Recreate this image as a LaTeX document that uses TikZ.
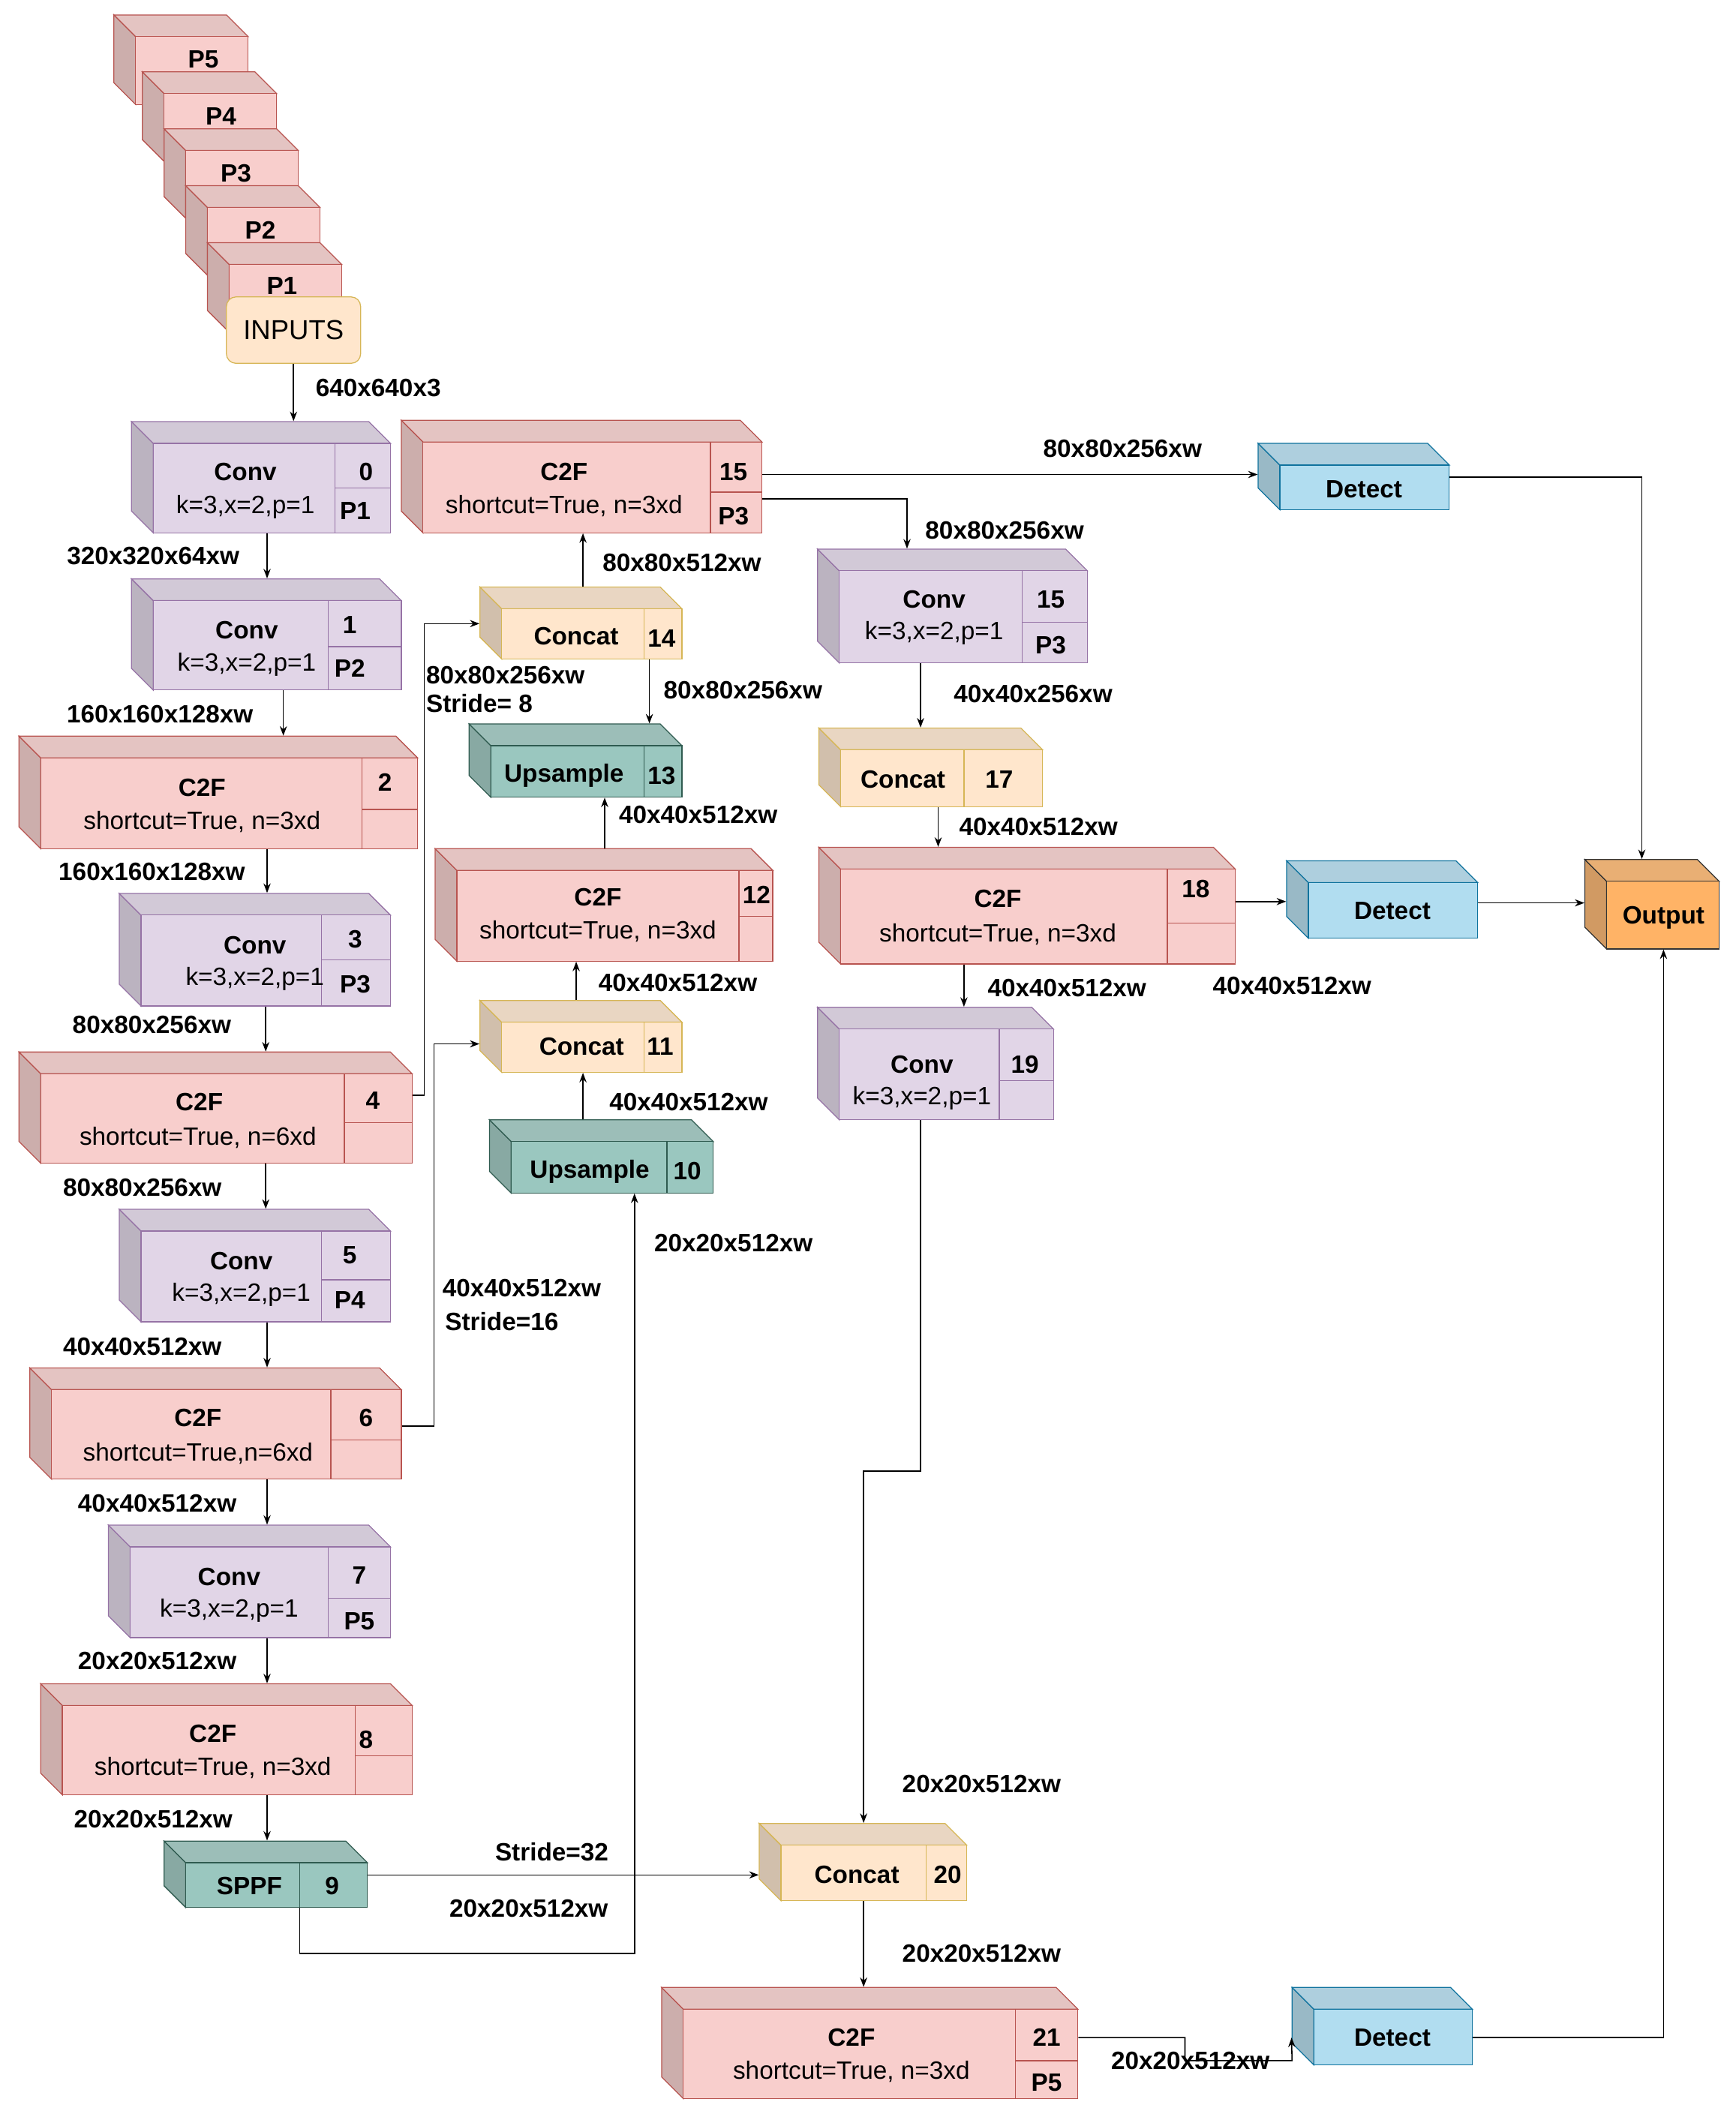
\documentclass[tikz,border=0pt]{standalone}
\usepackage{fontspec}
\setmainfont{Liberation Sans}
\usetikzlibrary{fit,arrows.meta}
\definecolor{purF}{HTML}{E1D5E7}\definecolor{purD}{HTML}{9673A6}
\definecolor{redF}{HTML}{F8CECC}\definecolor{redD}{HTML}{B85450}
\definecolor{orF}{HTML}{FFE6CC}\definecolor{orD}{HTML}{D6B656}
\definecolor{tealF}{HTML}{9AC7BF}\definecolor{tealD}{HTML}{2F5B50}
\definecolor{bluF}{HTML}{B1DDF0}\definecolor{bluD}{HTML}{10739E}
\definecolor{outF}{HTML}{FFB366}\definecolor{outD}{HTML}{333333}
\newcommand\cub[7]{%
 \filldraw[fill=#6!80!black!90,draw=#7] ({#2-16},{#3-16}) -- (#2,#3) -- (#2,#5) -- ({#2-16},{#5-16}) -- cycle;
 \filldraw[fill=#6!90!black!85,draw=#7] ({#2-16},{#3-16}) -- ({#4-16},{#3-16}) -- (#4,#3) -- (#2,#3) -- cycle;
 \filldraw[fill=#6,draw=#7] (#2,#3) rectangle (#4,#5);
 \node[fit={({#2-16},{#3-16}) (#4,#5)},inner sep=0] (#1) {};}
\newcommand\vd[4]{\draw[#4] (#1,#2) -- (#1,#3);}
\newcommand\hd[4]{\draw[#4] (#1,#3) -- (#2,#3);}
\tikzset{
 t/.style={font=\fontsize{10.5}{12}\selectfont\bfseries,inner sep=0},
 r/.style={font=\fontsize{10.5}{12}\selectfont,inner sep=0},
 e/.style={-{Stealth[length=4pt,width=3pt]},black,line width=0.5pt}}
\begin{document}
\begin{tikzpicture}[x=0.02cm,y=-0.02cm]
\useasboundingbox (0,0) rectangle (1280,1566);
% inputs stack
\cub{p5}{100}{27}{183}{77}{redF}{redD}\node[t] at (150,44){P5};
\cub{p4}{121}{69}{204}{119}{redF}{redD}\node[t] at (163,86){P4};
\cub{p3}{137}{111}{220}{161}{redF}{redD}\node[t] at (174,128){P3};
\cub{p2}{153}{153}{236}{203}{redF}{redD}\node[t] at (192,170){P2};
\cub{p1}{169}{195}{252}{245}{redF}{redD}\node[t] at (208,211){P1};
\node[draw=orD,fill=orF,rounded corners=4pt,minimum width=1.98cm,minimum height=0.98cm,r,font=\fontsize{11.5}{13}\selectfont] (in) at (216.5,243.5){INPUTS};
% left column
\cub{c0}{113}{327}{288}{393}{purF}{purD}\vd{247}{327}{393}{purD}\hd{247}{288}{360}{purD}
\node[t] at (181,348){Conv};\node[r] at (181,374){k=3,x=2,p=1};\node[t] at (270,348){0};\node[t] at (262,377){P1};
\cub{c1}{113}{443}{296}{509}{purF}{purD}\vd{242}{443}{509}{purD}\hd{242}{296}{477}{purD}
\node[t] at (182,465){Conv};\node[r] at (182,490){k=3,x=2,p=1};\node[t] at (258,461){1};\node[t] at (258,493){P2};
\cub{c2}{30}{559}{308}{626}{redF}{redD}\vd{267}{559}{626}{redD}\hd{267}{308}{597}{redD}
\node[t] at (149,581){C2F};\node[r] at (149,606){shortcut=True, n=3xd};\node[t] at (284,577){2};
\cub{c3}{104}{675}{288}{742}{purF}{purD}\vd{237}{675}{742}{purD}\hd{237}{288}{708}{purD}
\node[t] at (188,697){Conv};\node[r] at (188,722){k=3,x=2,p=1};\node[t] at (262,693){3};\node[t] at (262,726){P3};
\cub{c4}{30}{792}{304}{858}{redF}{redD}\vd{254}{792}{858}{redD}\hd{254}{304}{828}{redD}
\node[t] at (147,813){C2F};\node[r] at (146,839){shortcut=True, n=6xd};\node[t] at (275,812){4};
\cub{c5}{104}{908}{288}{975}{purF}{purD}\vd{237}{908}{975}{purD}\hd{237}{288}{944}{purD}
\node[t] at (178,930){Conv};\node[r] at (178,955){k=3,x=2,p=1};\node[t] at (258,926){5};\node[t] at (258,959){P4};
\cub{c6}{38}{1025}{296}{1091}{redF}{redD}\vd{244}{1025}{1091}{redD}\hd{244}{296}{1062}{redD}
\node[t] at (146,1046){C2F};\node[r] at (146,1072){shortcut=True,n=6xd};\node[t] at (270,1046){6};
\cub{c7}{96}{1141}{288}{1208}{purF}{purD}\vd{242}{1141}{1208}{purD}\hd{242}{288}{1179}{purD}
\node[t] at (169,1163){Conv};\node[r] at (169,1188){k=3,x=2,p=1};\node[t] at (265,1162){7};\node[t] at (265,1196){P5};
\cub{c8}{46}{1258}{304}{1324}{redF}{redD}\vd{262}{1258}{1324}{redD}\hd{262}{304}{1295}{redD}
\node[t] at (157,1279){C2F};\node[r] at (157,1304){shortcut=True, n=3xd};\node[t] at (270,1283){8};
\cub{c9}{137}{1374}{271}{1407}{tealF}{tealD}\vd{221}{1374}{1407}{tealD}
\node[t] at (184,1391){SPPF};\node[t] at (245,1391){9};
% middle column
\cub{c15}{312}{326}{562}{393}{redF}{redD}\vd{524}{326}{393}{redD}\hd{524}{562}{363}{redD}
\node[t] at (416,348){C2F};\node[r] at (416,373){shortcut=True, n=3xd};\node[t] at (541,348){15};\node[t] at (541,381){P3};
\cub{c14}{370}{449}{503}{486}{orF}{orD}\vd{475}{449}{486}{orD}
\node[t] at (425,469){Concat};\node[t] at (488,471){14};
\cub{c13}{362}{550}{503}{588}{tealF}{tealD}\vd{475}{550}{588}{tealD}
\node[t] at (416,572){Upsample};\node[t] at (488,572){13};
\cub{c12}{337}{642}{570}{709}{redF}{redD}\vd{545}{642}{709}{redD}\hd{545}{570}{676}{redD}
\node[t] at (441,662){C2F};\node[r] at (441,687){shortcut=True, n=3xd};\node[t] at (558,660){12};
\cub{c11}{370}{754}{503}{791}{orF}{orD}\vd{475}{754}{791}{orD}
\node[t] at (429,772){Concat};\node[t] at (487,772){11};
\cub{c10}{377}{842}{526}{880}{tealF}{tealD}\vd{492}{842}{880}{tealD}
\node[t] at (435,864){Upsample};\node[t] at (507,864){10};
% right column
\cub{d15}{619}{421}{802}{489}{purF}{purD}\vd{754}{421}{489}{purD}\hd{754}{802}{459}{purD}
\node[t] at (689,442){Conv};\node[r] at (689,467){k=3,x=2,p=1};\node[t] at (775,442){15};\node[t] at (775,476){P3};
\cub{c17}{620}{553}{769}{595}{orF}{orD}\vd{711}{553}{595}{orD}
\node[t] at (666,575){Concat};\node[t] at (737,575){17};
\cub{c18}{620}{641}{911}{711}{redF}{redD}\vd{861}{641}{711}{redD}\hd{861}{911}{681}{redD}
\node[t] at (736,663){C2F};\node[r] at (736,689){shortcut=True, n=3xd};\node[t] at (882,656){18};
\cub{c19}{619}{759}{777}{826}{purF}{purD}\vd{737}{759}{826}{purD}\hd{737}{777}{797}{purD}
\node[t] at (680,785){Conv};\node[r] at (680,810){k=3,x=2,p=1};\node[t] at (756,785){19};
\cub{c20}{576}{1361}{713}{1402}{orF}{orD}\vd{683}{1361}{1402}{orD}
\node[t] at (632,1383){Concat};\node[t] at (699,1383){20};
\cub{c21}{504}{1482}{795}{1548}{redF}{redD}\vd{749}{1482}{1548}{redD}\hd{749}{795}{1520}{redD}
\node[t] at (628,1503){C2F};\node[r] at (628,1528){shortcut=True, n=3xd};\node[t] at (772,1503){21};\node[t] at (772,1536){P5};
\cub{dt1}{944}{343}{1069}{376}{bluF}{bluD}\node[t] at (1006,361){Detect};
\cub{dt2}{965}{651}{1090}{692}{bluF}{bluD}\node[t] at (1027,672){Detect};
\cub{dt3}{969}{1482}{1086}{1523}{bluF}{bluD}\node[t] at (1027,1503){Detect};
\cub{out}{1185}{650}{1268}{700}{outF}{outD}\node[t] at (1227,677){Output};
% connectors
\draw[e] (in.south) -- (in.south |- c0.north);
\draw[e] (197,0 |- c0.south) -- (197,0 |- c1.north);
\draw[e] (209,0 |- c1.south) -- (209,0 |- c2.north);
\draw[e] (197,0 |- c2.south) -- (197,0 |- c3.north);
\draw[e] (196,0 |- c3.south) -- (196,0 |- c4.north);
\draw[e] (196,0 |- c4.south) -- (196,0 |- c5.north);
\draw[e] (197,0 |- c5.south) -- (197,0 |- c6.north);
\draw[e] (197,0 |- c6.south) -- (197,0 |- c7.north);
\draw[e] (197,0 |- c7.south) -- (197,0 |- c8.north);
\draw[e] (197,0 |- c8.south) -- (197,0 |- c9.north);
\draw[e] (c4.east |- 0,808) -- (313,808) |- (c14.west |- 0,460);
\draw[e] (c6.east |- 0,1052) -- (320,1052) |- (c11.west |- 0,770);
\draw[e] (c9.east |- 0,1383) -- (c20.west |- 0,1383);
\draw[e] (221,0 |- c9.south) -- (221,1441) -| (468,0 |- c10.south);
\draw[e] (430,0 |- c10.north) -- (430,0 |- c11.south);
\draw[e] (425,0 |- c11.north) -- (425,0 |- c12.south);
\draw[e] (446,0 |- c12.north) -- (446,0 |- c13.south);
\draw[e] (479,0 |- c14.south) -- (479,0 |- c13.north);
\draw[e] (430,0 |- c14.north) -- (430,0 |- c15.south);
\draw[e] (c15.east |- 0,350) -- (dt1.west |- 0,350);
\draw[e] (c15.east |- 0,368) -| (669,0 |- d15.north);
\draw[e] (679,0 |- d15.south) -- (679,0 |- c17.north);
\draw[e] (692,0 |- c17.south) -- (692,0 |- c18.north);
\draw[e] (c18.east |- 0,665) -- (dt2.west |- 0,665);
\draw[e] (711,0 |- c18.south) -- (711,0 |- c19.north);
\draw[e] (679,0 |- c19.south) -- (679,1085) -- (637,1085) -- (637,0 |- c20.north);
\draw[e] (637,0 |- c20.south) -- (637,0 |- c21.north);
\draw[e] (c21.east |- 0,1503) -- (874,1503) -- (874,1520) -- (953,1520) -- (dt3.west |- 0,1503);
\draw[e] (dt1.east |- 0,352) -| (1211,0 |- out.north);
\draw[e] (dt2.east |- 0,666) -- (out.west |- 0,666);
\draw[e] (dt3.east |- 0,1503) -| (1227,0 |- out.south);
% labels
\foreach \x/\y/\s in {279/286/640x640x3,113/410/320x320x64xw,118/527/160x160x128xw,112/643/160x160x128xw,
 112/756/80x80x256xw,105/876/80x80x256xw,105/993/40x40x512xw,116/1109/40x40x512xw,116/1225/20x20x512xw,
 113/1342/20x20x512xw,407/1366/Stride=32,390/1408/20x20x512xw,541/917/20x20x512xw,508/813/40x40x512xw,
 500/725/40x40x512xw,515/601/40x40x512xw,548/509/80x80x256xw,503/415/80x80x512xw,828/331/80x80x256xw,
 741/391/80x80x256xw,762/512/40x40x256xw,766/610/40x40x512xw,787/729/40x40x512xw,953/727/40x40x512xw,
 724/1316/20x20x512xw,724/1441/20x20x512xw,878/1520/20x20x512xw}
 \node[t] at (\x,\y){\s};
\node[t,anchor=west] at (326,950){40x40x512xw};
\node[t,anchor=west] at (328,975){Stride=16};
\node[t,anchor=west] at (314,498){80x80x256xw};
\node[t,anchor=west] at (314,519){Stride= 8};
\end{tikzpicture}
\end{document}
